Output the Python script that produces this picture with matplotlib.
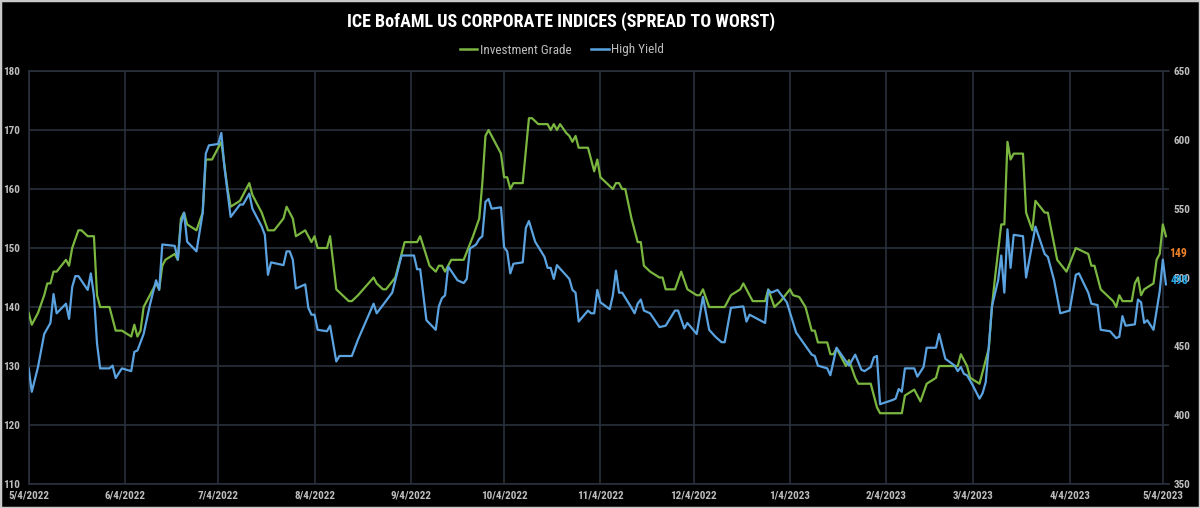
import pandas as pd
import matplotlib
matplotlib.use("Agg")
import matplotlib.pyplot as plt
from matplotlib import font_manager
from matplotlib.lines import Line2D
from matplotlib.patches import Rectangle
import matplotlib.transforms as mtransforms


START = "2022-05-04"
END = "2023-05-06"

# days after START
IG_DAYS = [0, 1, 3, 5, 6, 7, 8, 9, 12, 13, 14, 16, 17, 19, 21, 22, 23, 26, 28, 30,
           33, 34, 35, 36, 37, 40, 41, 42, 43, 44, 47, 48, 49, 50, 51, 54, 56, 57, 59, 61,
           62, 64, 65, 68, 71, 72, 75, 77, 79, 82, 83, 85, 86, 89, 91, 92, 93, 96, 97, 99,
           101, 103, 104, 106, 111, 112, 114, 115, 118, 121, 125, 126, 129, 131, 132, 133, 134, 136, 140, 143,
           145, 146, 147, 148, 150, 152, 153, 154, 155, 156, 159, 161, 162, 164, 167, 168, 169, 170, 171, 173,
           174, 175, 176, 177, 180, 182, 183, 184, 188, 189, 190, 191, 192, 194, 196, 197, 198, 200, 203, 204,
           205, 208, 210, 212, 215, 216, 217, 219, 224, 226, 229, 230, 233, 237, 238, 240, 242, 245, 246, 248,
           250, 252, 253, 254, 257, 258, 259, 260, 262, 263, 264, 266, 267, 271, 273, 274, 281, 282, 285, 287,
           289, 292, 293, 299, 300, 302, 303, 306, 308, 309, 310, 311, 313, 314, 315, 316, 317, 320, 321, 323,
           324, 327, 328, 331, 334, 337, 341, 342, 343, 345, 349, 350, 351, 352, 355, 356, 357, 358, 359, 362,
           363, 364, 365, 366]
IG_SPREAD = [139, 137, 139, 142, 144, 144, 146, 146, 148, 147, 150, 153, 153, 152, 152, 142, 140, 140, 136, 136,
             135, 137, 135, 136, 140, 143, 144, 143, 147, 148, 149, 148, 155, 156, 154, 153, 156, 165, 165, 167,
             168, 160, 157, 158, 161, 159, 156, 153, 153, 155, 157, 155, 152, 153, 151, 152, 150, 150, 152, 143,
             142, 141, 141, 142, 145, 144, 143, 143, 145, 151, 151, 152, 147, 146, 147, 147, 146, 148, 148, 152,
             155, 161, 169, 170, 168, 166, 162, 162, 160, 161, 161, 172, 172, 171, 171, 170, 171, 170, 171, 169.5,
             169, 168, 169, 167, 167, 163, 165, 162, 160, 161, 161, 160, 160, 155, 151, 151, 147, 146, 145, 145,
             143, 143, 146, 143, 142, 142, 143, 140, 140, 142, 143, 144, 141, 141, 143, 140, 141, 143, 142, 141.7,
             140, 136, 136, 134, 134, 132, 132, 133, 131, 130, 131, 128, 127, 127, 123, 122, 122, 125, 126, 124,
             127, 128, 130, 130, 132, 130, 128, 127, 131, 133, 140, 145, 154, 154, 168, 165, 166, 166, 156, 153,
             158, 156, 156, 148, 146, 150, 149, 147, 147, 143, 141, 140, 142, 141, 141, 144, 145, 142, 143, 144,
             148, 149, 154, 152]

HY_DAYS = [0, 1, 3, 5, 7, 8, 9, 12, 13, 14, 15, 16, 19, 20, 21, 22, 23, 26, 27, 28,
           30, 33, 34, 35, 37, 39, 41, 42, 43, 47, 48, 49, 50, 51, 54, 56, 57, 58, 61, 62,
           63, 65, 68, 69, 71, 72, 75, 76, 77, 78, 82, 83, 84, 85, 86, 89, 90, 91, 92, 93,
           96, 97, 99, 100, 104, 106, 111, 112, 117, 120, 124, 125, 126, 128, 131, 132, 133, 134, 135, 138,
           140, 141, 142, 144, 145, 146, 147, 148, 149, 152, 153, 154, 155, 156, 159, 160, 161, 163, 166, 167,
           168, 169, 170, 174, 175, 176, 177, 180, 181, 182, 183, 184, 187, 188, 189, 190, 191, 194, 195, 196,
           197, 198, 200, 203, 205, 208, 209, 211, 212, 215, 217, 219, 221, 223, 224, 226, 230, 231, 232, 237,
           238, 239, 240, 241, 244, 247, 252, 253, 254, 257, 258, 260, 264, 266, 268, 269, 271, 272, 273, 274,
           278, 279, 280, 281, 282, 285, 286, 288, 289, 292, 293, 295, 298, 299, 300, 301, 302, 304, 306, 307,
           308, 309, 310, 312, 313, 314, 315, 316, 317, 320, 321, 324, 327, 328, 330, 332, 335, 337, 338, 341,
           342, 344, 345, 348, 350, 351, 352, 353, 356, 357, 358, 359, 360, 362, 364, 365, 366]
HY_SPREAD = [434, 417, 435, 459, 467, 488, 474, 481, 470, 493, 501, 501, 491, 503, 487, 452, 434, 434, 436, 427,
             434, 432, 446, 447, 459, 480, 498, 491, 524, 523, 513, 539, 547, 526, 519, 547, 590, 596, 597, 605,
             580, 544, 553, 553, 561, 550, 537, 531, 502, 511, 509, 519, 519, 513, 492, 495, 478, 473, 473, 462,
             461, 465, 439, 443, 443, 455, 481, 474, 489, 516, 516, 506, 506, 469, 462, 479, 485, 487, 508, 498,
             496, 499, 521, 524, 528, 530, 555, 557, 550, 551, 522, 519, 503, 510, 511, 536, 541, 526, 515, 507,
             507, 499, 509, 499, 491, 489, 468, 476, 474, 474, 491, 482, 477, 487, 505, 489, 489, 478, 474, 481,
             484, 476, 474, 464, 465, 476, 476, 463, 467, 459, 486, 462, 457, 453, 453, 478, 479, 468, 473, 467,
             491, 489, 490, 491, 482, 460, 444, 443, 436, 434, 429, 449, 436, 444, 433, 432, 435, 442, 443, 408,
             411, 412, 419, 417, 434, 434, 428, 435, 449, 449, 459, 441, 436, 432, 435, 430, 429, 421, 412, 416,
             424, 450, 479, 498, 516, 489, 535, 507, 531, 530, 500, 537, 517, 515, 498, 474, 476, 502, 503, 489,
             481, 480, 462, 461, 456, 457, 472, 465, 466, 484, 482, 467, 469, 462, 490, 513, 495]

TICK_DATES = ["2022-05-04", "2022-06-04", "2022-07-04", "2022-08-04", "2022-09-04", "2022-10-04",
              "2022-11-04", "2022-12-04", "2023-01-04", "2023-02-04", "2023-03-04", "2023-04-04",
              "2023-05-04"]
IG_TICKS = [110, 120, 130, 140, 150, 160, 170, 180]
HY_TICKS = [350, 400, 450, 500, 550, 600, 650]
IG_LAST = 149
HY_LAST = 498

GREEN = "#7ab640"
BLUE = "#5ba3e0"
GRID = "#2a313d"
TICK_COLOR = "#bdbdbd"


def pick_font(candidates):
    names = {f.name for f in font_manager.fontManager.ttflist}
    for c in candidates:
        if c in names:
            return c
    return "DejaVu Sans"


FONT = pick_font(["Liberation Sans Narrow", "Roboto Condensed", "Roboto", "DejaVu Sans"])
plt.rcParams["font.family"] = [FONT, "DejaVu Sans"]


def main():
    start = pd.Timestamp(START)
    ig_dates = start + pd.to_timedelta(IG_DAYS, unit="D")
    hy_dates = start + pd.to_timedelta(HY_DAYS, unit="D")
    ticks = pd.to_datetime(TICK_DATES)

    fig = plt.figure(figsize=(12, 5.08), dpi=100, facecolor="black")
    ax = fig.add_axes([0.0239, 0.0472, 0.9503, 0.8130], facecolor="black")
    ax2 = ax.twinx()

    ax.plot(ig_dates, IG_SPREAD, color=GREEN, linewidth=1.6, zorder=3)
    ax2.plot(hy_dates, HY_SPREAD, color=BLUE, linewidth=1.6, zorder=3)

    ax.set_xlim(start, pd.Timestamp(END))
    ax.set_ylim(110, 180)
    ax2.set_ylim(350, 650)

    ax.set_xticks(ticks)
    ax.set_xticklabels([f"{d.month}/{d.day}/{d.year}" for d in ticks])
    ax.set_yticks(IG_TICKS)
    ax2.set_yticks(HY_TICKS)

    ax.grid(True, color=GRID, linewidth=1.2)
    ax.set_axisbelow(True)
    ax2.grid(False)

    for name, sp in ax.spines.items():
        sp.set_visible(name in ("left", "bottom", "top"))
        sp.set_color(GRID)
        sp.set_linewidth(1.2)
    for sp in ax2.spines.values():
        sp.set_visible(False)

    ax.tick_params(axis="x", length=0, pad=5, labelsize=8, labelcolor=TICK_COLOR)
    ax.tick_params(axis="y", length=0, pad=6, labelsize=8, labelcolor=TICK_COLOR)
    ax2.tick_params(axis="y", length=0, pad=3, labelsize=8, labelcolor=TICK_COLOR)
    for lbl in ax.get_xticklabels() + ax.get_yticklabels() + ax2.get_yticklabels():
        lbl.set_fontweight("bold")

    # last value tags on the right edge (they sit on top of the 500 label in the original too)
    tr1 = mtransforms.blended_transform_factory(ax.transAxes, ax.transData)
    ax.text(1.0, IG_LAST, f"{IG_LAST}", transform=tr1, color="#ee8228",
            fontsize=8.5, fontweight="bold", ha="left", va="center")
    tr2 = mtransforms.blended_transform_factory(ax2.transAxes, ax2.transData)
    ax2.text(1.001, HY_LAST, f"{HY_LAST}", transform=tr2, color="#27a6e6",
             fontsize=8.5, fontweight="bold", ha="left", va="center")

    fig.text(0.4675, 1 - 21.7 / 508, "ICE BofAML US CORPORATE INDICES (SPREAD TO WORST)",
             color="white", fontsize=13, fontweight="bold", ha="center", va="center")

    handles = [Line2D([], [], color=GREEN, linewidth=1.8),
               Line2D([], [], color=BLUE, linewidth=1.8)]
    leg = fig.legend(handles, ["Investment Grade", "High Yield"], loc="center",
                     bbox_to_anchor=(0.4685, 1 - 50 / 508), ncol=2, frameon=False,
                     fontsize=9.5, handlelength=1.3, handletextpad=0.2, columnspacing=1.5)
    for t in leg.get_texts():
        t.set_color("#bdbdbd")

    fig.patches.append(Rectangle((0, 0), 1, 1, transform=fig.transFigure, fill=False,
                                 edgecolor="#c9c9c9", linewidth=2.5))

    fig.savefig("out.png", dpi=100, facecolor="black")
    plt.close(fig)
    print("font:", FONT)


if __name__ == "__main__":
    main()
